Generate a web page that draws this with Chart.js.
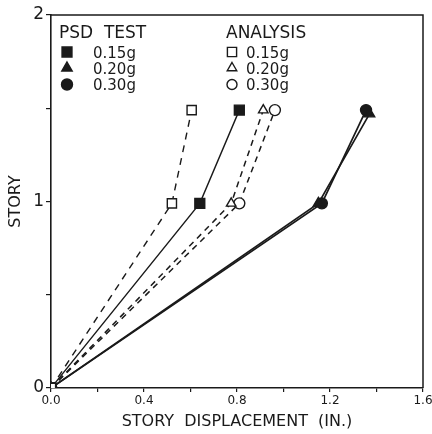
<!DOCTYPE html>
<html lang="en">
<head>
  <meta charset="UTF-8">
  <title>Story displacement</title>
  <script src="https://cdn.jsdelivr.net/npm/chart.js"></script>
  <style>
    html, body {
      margin: 0;
      padding: 0;
      background: #fff;
    }
    #wrap {
      width: 432px;
      height: 434px;
    }
  </style>
</head>
<body>
  <div id="wrap"><canvas id="storyChart" width="432" height="434"></canvas></div>

  <script>
    // values (x = displacement in inches, y = story)
    const psd15X = [0, 0.64, 0.81];
    const psd15Y = [0, 0.99, 1.49];
    const psd20X = [0, 1.15, 1.37];
    const psd20Y = [0, 0.99, 1.47];
    const psd30X = [0, 1.165, 1.355];
    const psd30Y = [0, 0.99, 1.49];

    const ana15X = [0, 0.52, 0.605];
    const ana15Y = [0, 0.99, 1.49];
    const ana20X = [0, 0.775, 0.913];
    const ana20Y = [0, 0.99, 1.49];
    const ana30X = [0, 0.81, 0.963];
    const ana30Y = [0, 0.99, 1.49];

    const xTickLabels = ['0.0', '0.4', '0.8', '1.2', '1.6'];
    const yTickLabels = ['0', '1', '2'];
    const levelNames = ['0.15g', '0.20g', '0.30g'];

    const ink = '#1a1a1a';
    const fontFamily = "'DejaVu Sans', sans-serif";

    function pts(xs, ys) {
      return xs.map((x, i) => ({ x: x, y: ys[i] }));
    }

    function series(label, xs, ys, style, radius, filled, dash, width) {
      return {
        label: label,
        data: pts(xs, ys),
        showLine: true,
        borderColor: ink,
        borderWidth: width,
        borderDash: dash,
        pointStyle: style,
        pointRadius: radius,
        pointHoverRadius: radius,
        pointBorderWidth: 1.4,
        pointBorderColor: ink,
        pointBackgroundColor: filled ? ink : '#fff',
        tension: 0
      };
    }

    const datasets = [
      series('ANALYSIS 0.15g', ana15X, ana15Y, 'rect', 6.5, false, [7, 6], 1.4),
      series('ANALYSIS 0.20g', ana20X, ana20Y, 'triangle', 5.5, false, [6, 5], 1.5),
      series('ANALYSIS 0.30g', ana30X, ana30Y, 'circle', 5.5, false, [6, 5], 1.5),
      series('PSD TEST 0.20g', psd20X, psd20Y, 'triangle', 6, true, [], 1.7),
      series('PSD TEST 0.30g', psd30X, psd30Y, 'circle', 5.5, true, [], 1.7),
      series('PSD TEST 0.15g', psd15X, psd15Y, 'rect', 7, true, [], 1.4)
    ];

    // top and right sides of the frame
    const framePlugin = {
      id: 'frame',
      beforeDatasetsDraw(chart) {
        const a = chart.chartArea;
        const ctx = chart.ctx;
        ctx.save();
        ctx.strokeStyle = ink;
        ctx.lineWidth = 1.5;
        ctx.beginPath();
        ctx.moveTo(a.left, a.top);
        ctx.lineTo(a.right, a.top);
        ctx.lineTo(a.right, a.bottom);
        ctx.stroke();
        ctx.restore();
      }
    };

    // two-column legend in the upper left corner
    const legendPlugin = {
      id: 'twoColLegend',
      afterDraw(chart) {
        const ctx = chart.ctx;
        ctx.save();
        ctx.fillStyle = ink;
        ctx.textBaseline = 'alphabetic';
        ctx.textAlign = 'left';
        ctx.font = '17px ' + fontFamily;
        ctx.fillText('PSD  TEST', 59, 38);
        ctx.fillText('ANALYSIS', 226, 38);

        const rows = [52, 68, 84.5];
        const styles = ['rect', 'triangle', 'circle'];
        const radii = [7, 6, 5.5];
        ctx.font = '15px ' + fontFamily;
        rows.forEach((cy, i) => {
          ctx.fillStyle = ink;
          ctx.fillText(levelNames[i], 93, cy + 5.5);
          ctx.fillText(levelNames[i], 246, cy + 5.5);

          ctx.strokeStyle = ink;
          ctx.lineWidth = 1.4;
          ctx.fillStyle = ink;
          Chart.helpers.drawPoint(ctx, { pointStyle: styles[i], radius: radii[i], borderWidth: 1.4 }, 67, cy);
          ctx.fillStyle = '#fff';
          Chart.helpers.drawPoint(ctx, { pointStyle: styles[i], radius: radii[i] - 0.5, borderWidth: 1.4 }, 232, cy);
        });
        ctx.restore();
      }
    };

    new Chart(document.getElementById('storyChart'), {
      type: 'scatter',
      data: { datasets: datasets },
      plugins: [framePlugin, legendPlugin],
      options: {
        responsive: false,
        animation: false,
        layout: { padding: { top: 15, right: 9, left: 0, bottom: 0 } },
        plugins: {
          legend: { display: false },
          tooltip: { enabled: false }
        },
        scales: {
          x: {
            type: 'linear',
            min: 0,
            max: 1.6,
            afterFit(scale) {
              scale.height = 46;
              scale.paddingRight = 0; // let "1.6" run off the edge like the original
            },
            afterBuildTicks(scale) {
              scale.ticks = [0, 0.2, 0.4, 0.6, 0.8, 1.0, 1.2, 1.4, 1.6].map(v => ({ value: v }));
            },
            ticks: {
              autoSkip: false,
              maxRotation: 0,
              padding: 2,
              color: ink,
              font: { family: fontFamily, size: 12 },
              callback(v) {
                const i = xTickLabels.indexOf(Number(v).toFixed(1));
                return i >= 0 ? xTickLabels[i] : '';
              }
            },
            grid: { drawOnChartArea: false, tickLength: 4, color: ink, lineWidth: 1.2 },
            border: { display: true, color: ink, width: 1.6 },
            title: {
              display: true,
              text: 'STORY  DISPLACEMENT  (IN.)',
              color: ink,
              font: { family: fontFamily, size: 16 },
              padding: { top: 0, bottom: 3 }
            }
          },
          y: {
            type: 'linear',
            min: 0,
            max: 2,
            afterFit(scale) { scale.width = 51; },
            afterBuildTicks(scale) {
              scale.ticks = [0, 0.5, 1, 1.5, 2].map(v => ({ value: v }));
            },
            ticks: {
              autoSkip: false,
              padding: 2,
              color: ink,
              font: { family: fontFamily, size: 17 },
              callback(v) {
                const i = yTickLabels.indexOf(String(v));
                return i >= 0 ? yTickLabels[i] : '';
              }
            },
            grid: { drawOnChartArea: false, tickLength: 5, color: ink, lineWidth: 1.2 },
            border: { display: true, color: ink, width: 1.6 },
            title: {
              display: true,
              text: 'STORY',
              color: ink,
              font: { family: fontFamily, size: 16 },
              padding: { top: 6, bottom: 0 }
            }
          }
        }
      }
    });
  </script>
</body>
</html>
